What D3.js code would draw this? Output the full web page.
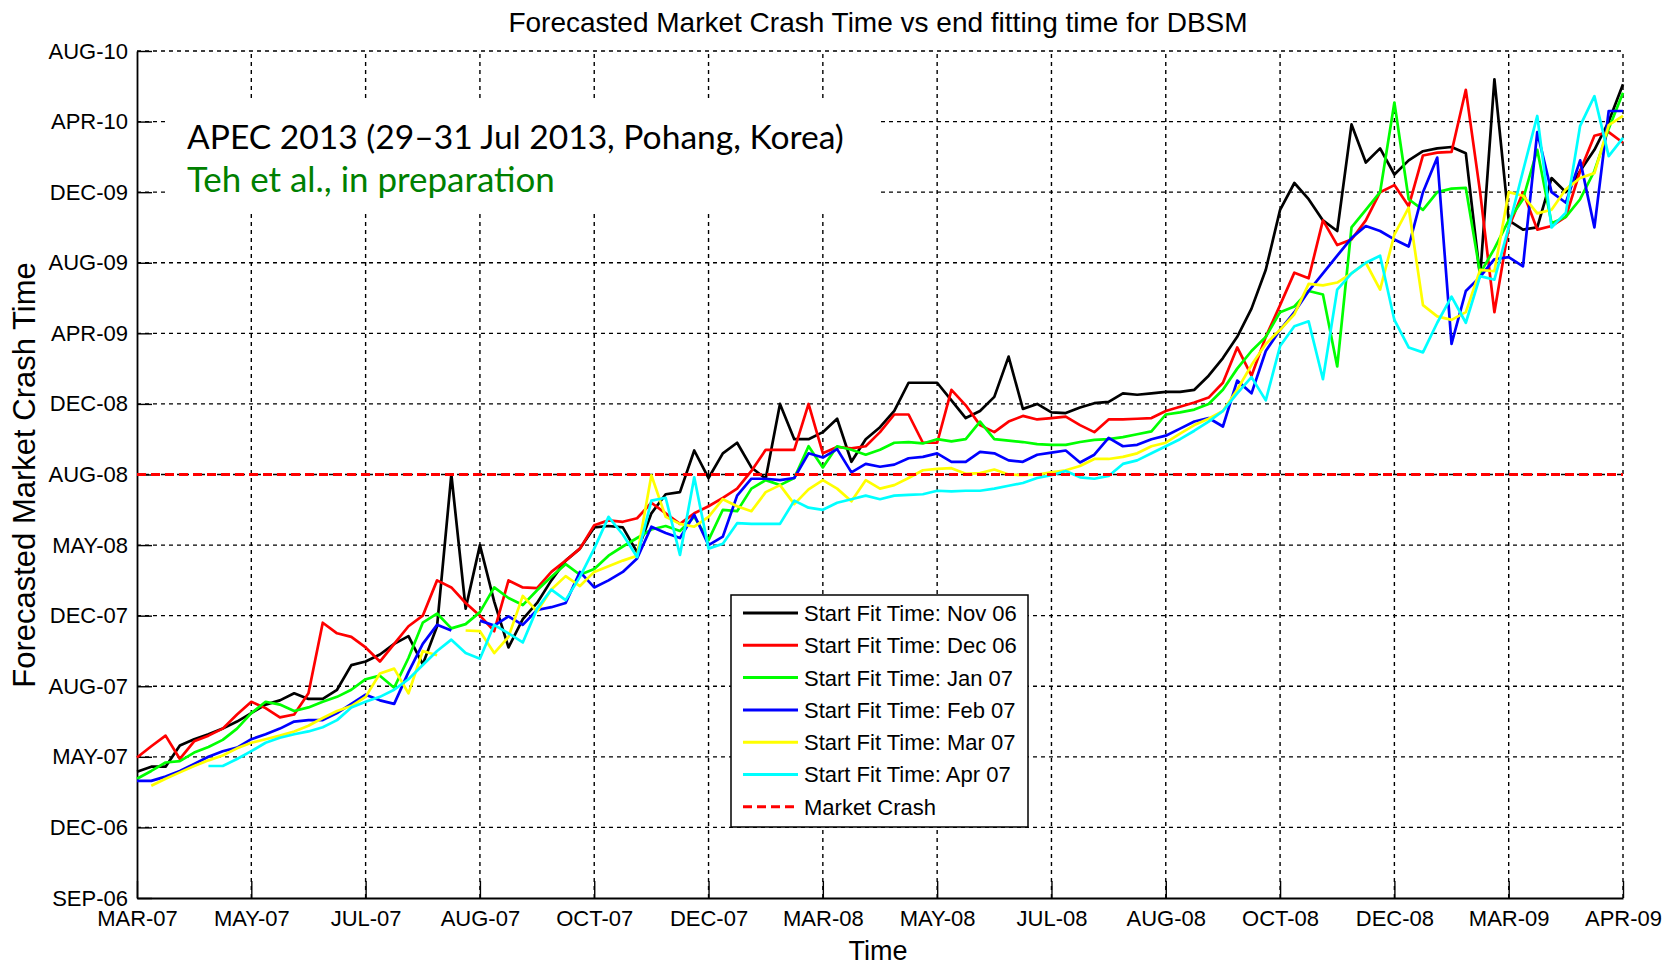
<!DOCTYPE html>
<meta charset="utf-8">
<style>
    body { margin: 0; background: #fff; }
    svg { display: block; background: #fff; }
    text { font-family: "Liberation Sans", Arial, Helvetica, sans-serif; fill: #000; }
</style>

<script src="https://d3js.org/d3.v7.min.js"></script>

<svg id="chart" width="1677" height="966"></svg>

<script>

// Data

// x: end fitting time, weekly index (8 steps per tick interval, 0 = MAR-07)
var endFitWeek = d3.range(105);
var xTickLabels = ['MAR-07', 'MAY-07', 'JUL-07', 'AUG-07', 'OCT-07', 'DEC-07', 'MAR-08',
                   'MAY-08', 'JUL-08', 'AUG-08', 'OCT-08', 'DEC-08', 'MAR-09', 'APR-09'];

// y: forecasted crash time in tick units (0 = SEP-06 ... 12 = AUG-10)
var yTickLabels = ['SEP-06', 'DEC-06', 'MAY-07', 'AUG-07', 'DEC-07', 'MAY-08', 'AUG-08',
                   'DEC-08', 'APR-09', 'AUG-09', 'DEC-09', 'APR-10', 'AUG-10'];

var marketCrash = 6;   // AUG-08

var startNov06 = [
    1.79, 1.86, 1.86, 2.16, 2.25, 2.32, 2.40, 2.50, 2.62, 2.74, 2.80, 2.90, 2.82, 2.82, 2.95, 3.30,
    3.35, 3.45, 3.60, 3.71, 3.31, 3.85, 6.00, 4.10, 5.00, 4.20, 3.55, 3.95, 4.18, 4.50, 4.78, 4.95,
    5.25, 5.27, 5.25, 4.90, 5.45, 5.72, 5.75, 6.34, 5.95, 6.30, 6.45, 6.10, 5.94, 7.00, 6.50, 6.50,
    6.60, 6.79, 6.18, 6.50, 6.67, 6.90, 7.30, 7.30, 7.30, 7.05, 6.80, 6.90, 7.10, 7.67, 6.93, 7.00,
    6.88, 6.87, 6.95, 7.01, 7.03, 7.15, 7.13, 7.15, 7.17, 7.17, 7.20, 7.40, 7.65, 7.95, 8.35, 8.90,
    9.75, 10.13, 9.90, 9.60, 9.45, 10.96, 10.42, 10.62, 10.25, 10.45, 10.58, 10.62, 10.64, 10.55, 8.80, 11.60,
    9.60, 9.47, 9.50, 10.20, 10.00, 10.30, 10.60, 11.00, 11.53
];

var startDec06 = [
    1.99, 2.15, 2.30, 1.97, 2.22, 2.30, 2.40, 2.60, 2.78, 2.69, 2.56, 2.60, 2.90, 3.90, 3.75, 3.70,
    3.55, 3.35, 3.60, 3.85, 4.00, 4.50, 4.40, 4.18, 4.00, 3.78, 4.50, 4.40, 4.39, 4.62, 4.78, 4.95,
    5.28, 5.35, 5.33, 5.38, 5.60, 5.45, 5.30, 5.45, 5.55, 5.67, 5.80, 6.05, 6.35, 6.35, 6.35, 7.00,
    6.30, 6.39, 6.37, 6.40, 6.60, 6.85, 6.85, 6.45, 6.45, 7.20, 6.98, 6.70, 6.60, 6.75, 6.83, 6.78,
    6.80, 6.82, 6.70, 6.60, 6.78, 6.78, 6.79, 6.80, 6.90, 6.96, 7.02, 7.09, 7.30, 7.80, 7.40, 7.95,
    8.40, 8.86, 8.78, 9.60, 9.25, 9.33, 9.60, 10.00, 10.10, 9.80, 10.52, 10.56, 10.57, 11.45, 10.00, 8.30,
    9.50, 10.00, 9.47, 9.52, 9.65, 10.30, 10.80, 10.85, 10.70
];

var startJan07 = [
    1.69, 1.80, 1.92, 1.94, 2.06, 2.14, 2.24, 2.40, 2.62, 2.78, 2.74, 2.65, 2.70, 2.78, 2.85, 2.95,
    3.10, 3.15, 2.98, 3.40, 3.90, 4.03, 3.82, 3.88, 4.05, 4.40, 4.25, 4.15, 4.36, 4.55, 4.73, 4.58,
    4.66, 4.85, 4.98, 5.10, 5.22, 5.27, 5.20, 5.40, 5.07, 5.50, 5.48, 5.80, 5.92, 5.85, 5.95, 6.40,
    6.10, 6.40, 6.35, 6.28, 6.35, 6.45, 6.46, 6.44, 6.50, 6.47, 6.50, 6.75, 6.50, 6.48, 6.46, 6.43,
    6.42, 6.42, 6.46, 6.49, 6.50, 6.53, 6.57, 6.61, 6.85, 6.88, 6.92, 7.00, 7.20, 7.50, 7.75, 7.95,
    8.30, 8.38, 8.60, 8.55, 7.53, 9.50, 9.75, 10.00, 11.27, 9.90, 9.75, 10.00, 10.05, 10.06, 8.85, 9.20,
    9.60, 9.90, 10.60, 9.56, 9.65, 9.90, 10.30, 10.90, 11.41
];

var startFeb07 = [
    1.66, 1.66, 1.72, 1.80, 1.90, 2.00, 2.08, 2.13, 2.25, 2.32, 2.40, 2.50, 2.52, 2.52, 2.62, 2.75,
    2.88, 2.80, 2.75, 3.20, 3.60, 3.87, 3.79, null, 3.93, 3.86, 3.99, 3.87, 4.08, 4.12, 4.18, 4.62,
    4.40, 4.50, 4.62, 4.81, 5.26, 5.17, 5.10, 5.43, 5.00, 5.12, 5.70, 5.94, 5.94, 5.92, 5.95, 6.30,
    6.24, 6.36, 6.03, 6.15, 6.11, 6.14, 6.23, 6.25, 6.30, 6.18, 6.18, 6.32, 6.30, 6.20, 6.18, 6.28,
    6.31, 6.34, 6.17, 6.28, 6.52, 6.40, 6.42, 6.50, 6.55, 6.65, 6.75, 6.80, 6.68, 7.33, 7.15, 7.75,
    8.05, 8.30, 8.60, 8.85, 9.10, 9.35, 9.52, 9.45, 9.33, 9.23, 10.00, 10.49, 7.85, 8.60, 8.80, 9.05,
    9.08, 8.95, 10.85, 10.00, 9.85, 10.45, 9.50, 11.15, 11.15
];

var startMar07 = [
    null, 1.59, 1.69, 1.78, 1.87, 1.95, 2.02, 2.12, 2.20, 2.25, 2.30, 2.36, 2.44, 2.55, 2.65, 2.72,
    2.85, 3.18, 3.25, 2.90, 3.50, 3.44, null, 3.79, 3.78, 3.47, 3.70, 4.28, 4.06, 4.37, 4.56, 4.42,
    4.62, 4.70, 4.78, 4.85, 5.99, 5.40, 5.30, 5.26, 5.40, 5.65, 5.55, 5.48, 5.75, 5.85, 5.58, 5.79,
    5.92, 5.80, 5.62, 5.92, 5.80, 5.85, 5.95, 6.06, 6.08, 6.09, 6.01, 6.02, 6.07, 6.00, 5.99, 6.00,
    6.03, 6.06, 6.12, 6.22, 6.22, 6.25, 6.30, 6.40, 6.45, 6.58, 6.70, 6.79, 6.90, 7.20, 7.55, 7.85,
    8.05, 8.27, 8.70, 8.68, 8.72, 8.85, 9.00, 8.62, 9.40, 9.78, 8.40, 8.24, 8.19, 8.30, 8.90, 8.88,
    10.00, 9.95, 9.70, 9.75, 10.04, 10.20, 10.27, 10.95, 11.08
];

var startApr07 = [
    null, null, null, null, null, 1.87, 1.87, 1.97, 2.08, 2.20, 2.27, 2.32, 2.36, 2.42, 2.52, 2.70,
    2.78, 2.85, 2.95, 3.10, 3.30, 3.50, 3.66, 3.47, 3.39, 3.87, 3.75, 3.62, 4.10, 4.37, 4.22, 4.55,
    4.95, 5.40, 5.15, 4.83, 5.63, 5.67, 4.86, 5.96, 4.95, 5.02, 5.31, 5.30, 5.30, 5.30, 5.63, 5.53,
    5.50, 5.60, 5.65, 5.70, 5.65, 5.70, 5.71, 5.72, 5.77, 5.76, 5.77, 5.77, 5.80, 5.84, 5.88, 5.95,
    5.99, 6.05, 5.96, 5.94, 5.98, 6.15, 6.20, 6.30, 6.40, 6.50, 6.62, 6.75, 6.90, 7.15, 7.38, 7.05,
    7.82, 8.10, 8.17, 7.35, 8.62, 8.85, 9.00, 9.10, 8.19, 7.80, 7.73, 8.15, 8.52, 8.15, 8.81, 8.76,
    9.50, 10.30, 11.08, 9.50, 9.71, 10.94, 11.36, 10.51, 10.77
];

var seriesNames = ['Start Fit Time: Nov 06', 'Start Fit Time: Dec 06', 'Start Fit Time: Jan 07',
                   'Start Fit Time: Feb 07', 'Start Fit Time: Mar 07', 'Start Fit Time: Apr 07'];
var seriesColors = ['#000000', '#ff0000', '#00ff00', '#0000ff', '#ffff00', '#00ffff'];
var seriesValues = [startNov06, startDec06, startJan07, startFeb07, startMar07, startApr07];


// Setup

var svg = d3.select('svg#chart');

var plot = { left: 137, right: 1623, top: 51, bottom: 898 };

var x = d3.scaleLinear().domain([0, 104]).range([plot.left, plot.right]);
var y = d3.scaleLinear().domain([0, 12]).range([plot.bottom, plot.top]);

var xTicks = d3.range(0, 105, 8);
var yTicks = d3.range(0, 13);


// Grid (dotted)

var grid = svg.append('g')
    .attr('stroke', '#000')
    .attr('stroke-width', 1.4)
    .attr('stroke-dasharray', '4,4');

grid.selectAll('line.v')
    .data(xTicks.slice(1))
    .enter().append('line')
    .attr('class', 'v')
    .attr('x1', function(d) { return x(d); })
    .attr('x2', function(d) { return x(d); })
    .attr('y1', plot.bottom)
    .attr('y2', plot.top);

grid.selectAll('line.h')
    .data(yTicks.slice(1))
    .enter().append('line')
    .attr('class', 'h')
    .attr('x1', plot.left)
    .attr('x2', plot.right)
    .attr('y1', function(d) { return y(d); })
    .attr('y2', function(d) { return y(d); });


// White box behind the conference note

svg.append('rect')
    .attr('x', 166).attr('y', 102)
    .attr('width', 713).attr('height', 111)
    .attr('fill', '#fff');


// Axes (left and bottom only, ticks inward)

var xAxis = d3.axisBottom(x)
    .tickValues(xTicks)
    .tickSizeInner(-17)
    .tickSizeOuter(0)
    .tickPadding(12)
    .tickFormat(function(d, i) { return xTickLabels[i]; });

var yAxis = d3.axisLeft(y)
    .tickValues(yTicks)
    .tickSizeInner(-15)
    .tickSizeOuter(0)
    .tickPadding(9)
    .tickFormat(function(d, i) { return yTickLabels[i]; });

var gx = svg.append('g')
    .attr('transform', 'translate(0,' + plot.bottom + ')')
    .call(xAxis);

var gy = svg.append('g')
    .attr('transform', 'translate(' + plot.left + ',0)')
    .call(yAxis);

[gx, gy].forEach(function(g) {
    g.select('.domain').attr('stroke', '#000').attr('stroke-width', 1.8);
    g.selectAll('.tick line').attr('stroke', '#000').attr('stroke-width', 1.4);
    g.selectAll('.tick text')
        .attr('fill', '#000')
        .style('font-family', '"Liberation Sans", Arial, sans-serif')
        .style('font-size', '22px');
});


// Series lines

var line = d3.line()
    .defined(function(d) { return d != null; })
    .x(function(d, i) { return x(endFitWeek[i]); })
    .y(function(d) { return y(d); });

svg.append('g')
    .selectAll('path')
    .data(seriesValues)
    .enter().append('path')
    .attr('fill', 'none')
    .attr('stroke', function(d, i) { return seriesColors[i]; })
    .attr('stroke-width', 2.7)
    .attr('stroke-linejoin', 'round')
    .attr('d', line);

// Market crash level
svg.append('line')
    .attr('x1', plot.left).attr('x2', plot.right)
    .attr('y1', y(marketCrash)).attr('y2', y(marketCrash))
    .attr('stroke', '#ff0000')
    .attr('stroke-width', 3)
    .attr('stroke-dasharray', '9,5');


// Titles

svg.append('text')
    .attr('x', 878).attr('y', 32)
    .attr('text-anchor', 'middle')
    .style('font-size', '28px')
    .text('Forecasted Market Crash Time vs end fitting time for DBSM');

svg.append('text')
    .attr('x', 878).attr('y', 960)
    .attr('text-anchor', 'middle')
    .style('font-size', '27px')
    .text('Time');

svg.append('text')
    .attr('transform', 'translate(35,475) rotate(-90)')
    .attr('text-anchor', 'middle')
    .style('font-size', '31px')
    .text('Forecasted Market Crash Time');


// Conference note, sized to its width in the picture

var noteLines = [
    { text: 'APEC 2013 (29\u201331 Jul 2013, Pohang, Korea)', color: '#000000', y: 149, width: 657 },
    { text: 'Teh et al., in preparation', color: '#008000', y: 192, width: 368 }
];

noteLines.forEach(function(n) {
    var t = svg.append('text')
        .attr('x', 187).attr('y', n.y)
        .style('font-family', 'Lato, "Open Sans", sans-serif')
        .style('font-size', '32px')
        .style('fill', n.color)
        .text(n.text);
    var w = t.node().getComputedTextLength();
    t.style('font-size', (32 * n.width / w) + 'px');
});


// Legend

var legend = svg.append('g');

legend.append('rect')
    .attr('x', 731).attr('y', 595)
    .attr('width', 297).attr('height', 232)
    .attr('fill', '#fff')
    .attr('stroke', '#000')
    .attr('stroke-width', 1.5);

var legendItems = seriesNames.map(function(name, i) {
    return { name: name, color: seriesColors[i], dash: null };
});
legendItems.push({ name: 'Market Crash', color: '#ff0000', dash: '9,5' });

var rows = legend.selectAll('g.row')
    .data(legendItems)
    .enter().append('g')
    .attr('class', 'row')
    .attr('transform', function(d, i) { return 'translate(0,' + (613 + i * 32.3) + ')'; });

rows.append('line')
    .attr('x1', 743).attr('x2', 798)
    .attr('stroke', function(d) { return d.color; })
    .attr('stroke-width', 3)
    .attr('stroke-dasharray', function(d) { return d.dash; });

rows.append('text')
    .attr('x', 804)
    .attr('dy', '0.36em')
    .style('font-size', '22px')
    .text(function(d) { return d.name; });

</script>
